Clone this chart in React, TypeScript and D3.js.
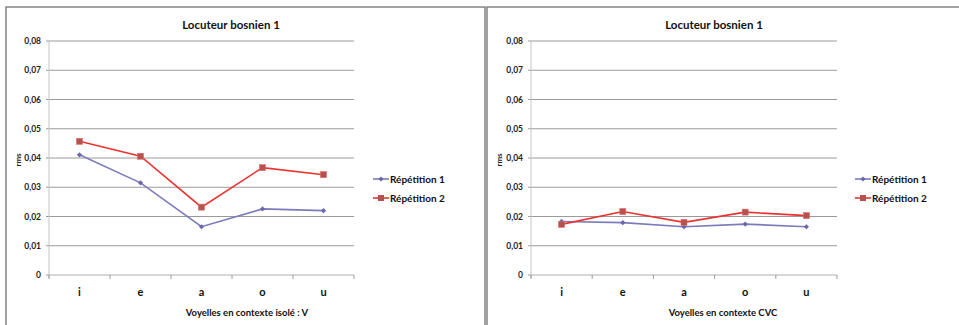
import React from "react";
import * as d3 from "d3";

const categories = ["i", "e", "a", "o", "u"];
const yTicks = [0, 0.01, 0.02, 0.03, 0.04, 0.05, 0.06, 0.07, 0.08];
const seriesNames = ["Répétition 1", "Répétition 2"];

const leftRep1 = [0.0411, 0.0315, 0.0165, 0.0226, 0.022];
const leftRep2 = [0.0457, 0.0406, 0.0232, 0.0367, 0.0343];
const rightRep1 = [0.0183, 0.0179, 0.0165, 0.0174, 0.0165];
const rightRep2 = [0.0173, 0.0217, 0.018, 0.0215, 0.0203];

const title = "Locuteur bosnien 1";
const leftXTitle = "Voyelles en contexte isolé : V";
const rightXTitle = "Voyelles en contexte CVC";
const yTitle = "rms";

const FONT = "Lato, 'Open Sans', sans-serif";
const C1 = "#7b7bbb";
const C1m = "#6767ad";
const C2 = "#ea3331";
const C2m = "#b4524f";

type ChartProps = {
  ox: number;
  frameW: number;
  plotL: number;
  plotR: number;
  titleX: number;
  xTitleX: number;
  xTitle: string;
  rep1: number[];
  rep2: number[];
  legendX: number;
};

function Chart({ ox, frameW, plotL, plotR, titleX, xTitleX, xTitle, rep1, rep2, legendX }: ChartProps) {
  const top = 41;
  const bottom = 275;
  const x = d3.scaleBand<string>().domain(categories).range([plotL, plotR]);
  const y = d3.scaleLinear().domain([0, 0.08]).range([bottom, top]);
  const cx = (c: string) => (x(c) as number) + x.bandwidth() / 2;
  const line = d3
    .line<number>()
    .x((_, i) => cx(categories[i]))
    .y((d) => y(d));
  const fmt = (v: number) => (v === 0 ? "0" : v.toFixed(2).replace(".", ","));
  const boundaries = categories.map((c) => x(c) as number).concat([plotR]);
  const diamond = (px: number, py: number, r: number) =>
    `M${px},${py - r}L${px + r},${py}L${px},${py + r}L${px - r},${py}Z`;

  return (
    <g transform={`translate(${ox},0)`}>
      <rect x={0} y={7} width={frameW} height={330} fill="#fff" stroke="#7a7a7a" strokeWidth={1.4} />
      <text x={titleX} y={29} textAnchor="middle" fontFamily={FONT} fontWeight="bold" fontSize={11.5} fill="#111">
        {title}
      </text>
      {yTicks.map((t) => (
        <g key={t}>
          {t > 0 && (
            <line x1={plotL} x2={plotR} y1={y(t)} y2={y(t)} stroke="#9a9a9a" strokeWidth={1} />
          )}
          <line x1={plotL - 3} x2={plotL} y1={y(t)} y2={y(t)} stroke="#9a9a9a" />
          <text x={plotL - 8} y={y(t) + 3} textAnchor="end" fontFamily={FONT} fontWeight="bold" fontSize={8.5} fill="#222">
            {fmt(t)}
          </text>
        </g>
      ))}
      <line x1={plotL} x2={plotL} y1={top} y2={bottom + 3} stroke="#c4c4c4" strokeWidth={1} />
      <line x1={plotL} x2={plotR} y1={bottom} y2={bottom} stroke="#b0b0b0" strokeWidth={1} />
      {boundaries.map((b, i) => (
        <line key={i} x1={b} x2={b} y1={bottom} y2={bottom + 4} stroke="#9a9a9a" />
      ))}
      {categories.map((c) => (
        <text key={c} x={cx(c)} y={296} textAnchor="middle" fontFamily={FONT} fontWeight="bold" fontSize={11} fill="#111">
          {c}
        </text>
      ))}
      <text x={xTitleX} y={316} textAnchor="middle" fontFamily={FONT} fontWeight="bold" fontSize={9.5} fill="#111">
        {xTitle}
      </text>
      <text
        transform={`translate(15,${160}) rotate(-90)`}
        textAnchor="middle"
        fontFamily={FONT}
        fontWeight="bold"
        fontSize={8}
        fill="#222"
      >
        {yTitle}
      </text>
      <path d={line(rep1) || ""} fill="none" stroke={C1} strokeWidth={1.6} />
      <path d={line(rep2) || ""} fill="none" stroke={C2} strokeWidth={1.6} />
      {rep1.map((v, i) => (
        <path key={i} d={diamond(cx(categories[i]), y(v), 2.6)} fill={C1m} />
      ))}
      {rep2.map((v, i) => (
        <rect key={i} x={cx(categories[i]) - 3} y={y(v) - 3} width={6} height={6} fill={C2m} stroke="#e06a6a" strokeWidth={0.6} />
      ))}
      {/* legend */}
      <line x1={legendX} x2={legendX + 16} y1={179} y2={179} stroke={C1} strokeWidth={1.6} />
      <path d={diamond(legendX + 8, 179, 2.6)} fill={C1m} />
      <text x={legendX + 17} y={183} fontFamily={FONT} fontWeight="bold" fontSize={10} fill="#111">
        {seriesNames[0]}
      </text>
      <line x1={legendX} x2={legendX + 16} y1={198} y2={198} stroke={C2} strokeWidth={1.6} />
      <rect x={legendX + 5} y={195} width={6} height={6} fill={C2m} />
      <text x={legendX + 17} y={202} fontFamily={FONT} fontWeight="bold" fontSize={10} fill="#111">
        {seriesNames[1]}
      </text>
    </g>
  );
}

export default function App() {
  return (
    <svg
      width={959}
      height={325}
      style={{ position: "absolute", left: 0, top: 0, background: "#fff" }}
    >
      <rect width={959} height={325} fill="#fff" />
      <Chart
        ox={6}
        frameW={479}
        plotL={43}
        plotR={348}
        titleX={225}
        xTitleX={241}
        xTitle={leftXTitle}
        rep1={leftRep1}
        rep2={leftRep2}
        legendX={367}
      />
      <Chart
        ox={487}
        frameW={490}
        plotL={44}
        plotR={350}
        titleX={227}
        xTitleX={236}
        xTitle={rightXTitle}
        rep1={rightRep1}
        rep2={rightRep2}
        legendX={368}
      />
    </svg>
  );
}
